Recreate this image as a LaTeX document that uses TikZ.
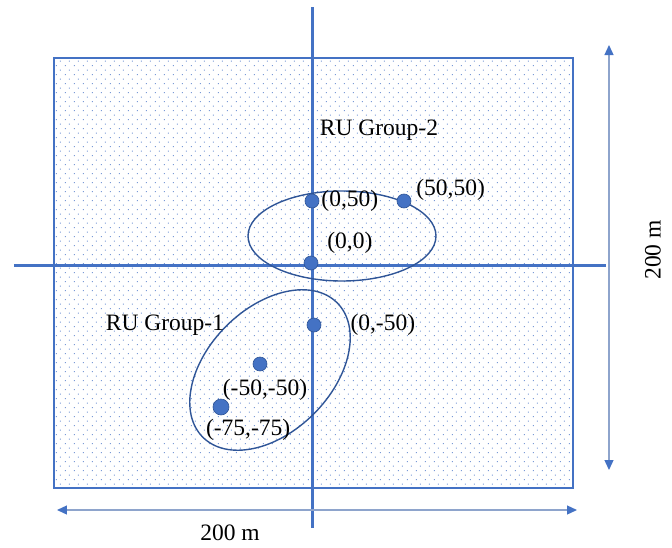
\documentclass[tikz,border=0pt]{standalone}
\usepackage{fontspec}
\setmainfont{Liberation Serif}
\usetikzlibrary{arrows.meta,positioning,patterns.meta}

\definecolor{rublue}{HTML}{4472C4}
\definecolor{rudark}{HTML}{2F5597}
\definecolor{dotblue}{HTML}{7A9AD6}
\definecolor{dimgray}{HTML}{8EA4CC}

\tikzdeclarepattern{
  name=rudots,
  type=uncolored,
  bounding box={(0,0) and (9pt,9.4pt)},
  tile size={(9pt,9.4pt)},
  code={
    \fill (2pt,2pt) rectangle (3.1pt,3.1pt);
    \fill (6.5pt,6.7pt) rectangle (7.6pt,7.8pt);
  }
}

\tikzset{
  ru dot/.style={circle, fill=rublue, draw=rudark, line width=0.6pt, minimum size=14pt, inner sep=0pt},
  coord label/.style={inner sep=1pt, font=\fontsize{23.5}{26}\selectfont},
  axis line/.style={draw=rublue, line width=3pt},
  dim arrow/.style={draw=dimgray, line width=1.3pt, {Triangle[length=10pt,width=9pt,color=rublue]}-{Triangle[length=10pt,width=9pt,color=rublue]}},
  group ring/.style={draw=rudark, line width=1.4pt}
}

\begin{document}
\begin{tikzpicture}[x=1pt,y=1pt]
	\useasboundingbox (-312,-282) rectangle (360,265);
	% area
	\fill[pattern={rudots}, pattern color=dotblue] (-258,-223) rectangle (261,207);
	\draw[draw=rublue, line width=2pt] (-258,-223) rectangle (261,207);
	% axes
	\coordinate (yt) at (1,258);
	\coordinate (yb) at (1,-263);
	\coordinate (xl) at (-298,0);
	\coordinate (xr) at (294,0);
	\path[axis line] (yt) -- (yb) (xl) -- (xr);
	% dimensions
	\coordinate (dt) at (297,220);
	\coordinate (db) at (297,-205);
	\coordinate (dl) at (-255,-245);
	\coordinate (dr) at (265,-245);
	\path[dim arrow] (dt) -- (db);
	\path[dim arrow] (dl) -- (dr);
	\node[coord label, rotate=90] (hlen) at (341,15) {200 m};
	\node[coord label] (wlen) at (-82,-268) {200 m};
	% groups
	\draw[group ring] (30,29) ellipse [x radius=94, y radius=45];
	\draw[group ring, rotate around={45:(-42,-105)}] (-42,-105) ellipse [x radius=95, y radius=62];
	\node[coord label] (grp2) at (67,135) {RU Group-2};
	\node[coord label] (grp1) at (-147,-60) {RU Group-1};
	% radio units
	\node[ru dot] (p050) at (0,64) {};
	\node[ru dot] (p5050) at (92,64) {};
	\node[ru dot] (p00) at (-1,2) {};
	\node[ru dot] (p0m50) at (2,-60) {};
	\node[ru dot] (pm50) at (-52,-99) {};
	\node[ru dot, minimum size=16pt] (pm75) at (-91,-142) {};
	\node[coord label, right=1pt of p050] {(0,50)};
	\node[coord label, above right=-6pt and 6pt of p5050] {(50,50)};
	\node[coord label, above right=3pt and 10pt of p00] {(0,0)};
	\node[coord label, right=28pt of p0m50] {(0,-50)};
	\node[coord label, below=7pt of pm50, xshift=5pt] {(-50,-50)};
	\node[coord label, below right=5pt and -22pt of pm75] {(-75,-75)};
\end{tikzpicture}
\end{document}
